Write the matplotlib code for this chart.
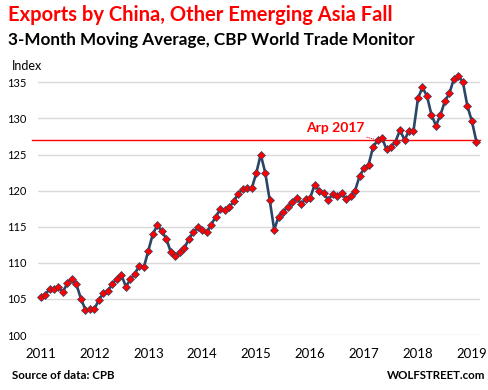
import matplotlib
matplotlib.use("Agg")
import matplotlib.pyplot as plt
import numpy as np

# monthly 3-month moving average, Jan 2011 .. Feb 2019
index_values = [
    105.3, 105.5, 106.4, 106.4, 106.6, 106.0, 107.2, 107.8, 107.0, 105.0, 103.5, 103.6,  # 2011
    103.6, 104.9, 105.8, 106.1, 107.1, 107.8, 108.3, 106.7, 107.7, 108.5, 109.6, 109.4,  # 2012
    111.7, 114.0, 115.2, 114.4, 113.3, 111.5, 110.9, 111.5, 112.0, 113.3, 114.2, 114.9,  # 2013
    114.6, 114.2, 115.3, 116.4, 117.4, 117.3, 117.7, 118.5, 119.6, 120.2, 120.3, 120.3,  # 2014
    122.4, 125.0, 122.5, 118.7, 114.6, 116.4, 117.1, 117.7, 118.4, 119.0, 118.2, 118.8,  # 2015
    119.0, 120.8, 120.0, 119.7, 118.7, 119.5, 119.3, 119.7, 118.8, 119.2, 120.0, 122.0,  # 2016
    123.1, 123.6, 126.0, 127.0, 127.3, 125.7, 126.0, 126.8, 128.4, 127.0, 128.3, 128.3,  # 2017
    132.8, 134.3, 133.1, 130.5, 129.0, 130.5, 132.4, 133.5, 135.5, 135.9, 135.0, 131.7,  # 2018
    129.6, 126.8,                                                                        # 2019
]
year_labels = ["2011", "2012", "2013", "2014", "2015", "2016", "2017", "2018", "2019"]
y_ticks = [100, 105, 110, 115, 120, 125, 130, 135]
ref_level = 127.0
ref_month = 75  # Apr 2017

plt.rcParams["font.family"] = ["Lato", "DejaVu Sans"]

W, H = 489, 390
fig = plt.figure(figsize=(W / 100, H / 100), dpi=100)
ax = fig.add_axes([38 / W, (H - 335) / H, 442 / W, (335 - 67.9) / H])

months = np.arange(len(index_values))
ax.set_xlim(-0.56, 97.8)
ax.set_ylim(100, 137)

ax.set_yticks(y_ticks)
ax.set_yticklabels([str(t) for t in y_ticks], fontsize=8)
ax.set_xticks(np.arange(len(year_labels)) * 12)
ax.set_xticklabels(year_labels, fontsize=9.5)
ax.tick_params(axis="both", length=0)
ax.tick_params(axis="y", pad=8.5)
ax.tick_params(axis="x", pad=9)
for s in ax.spines.values():
    s.set_visible(False)
ax.grid(axis="y", color="#d9d9d9", linewidth=1)
ax.set_axisbelow(True)

# horizontal reference line at the latest value
ax.axhline(ref_level, xmin=-6 / 442, xmax=1, color="#ff0000", linewidth=1, clip_on=False)

ax.plot(months, index_values, "-", color="#2b4566", linewidth=1.9,
        marker="D", markersize=4.2, markerfacecolor="#ff0000",
        markeredgecolor="#2b4566", markeredgewidth=0.5, clip_on=False, zorder=3)

ax.annotate("Arp 2017", xy=(ref_month, index_values[ref_month]), xytext=(ref_month - 3, ref_level + 0.8),
            ha="right", va="bottom", color="#ff0000", fontsize=10, fontweight="bold",
            arrowprops=dict(arrowstyle="-", color="#ff0000", linewidth=0.6, linestyle=":",
                            shrinkA=0, shrinkB=2))

fig.text(8 / W, (H - 21) / H, "Exports by China, Other Emerging Asia Fall", color="#ff0000",
         fontsize=14.5, fontweight="bold", va="baseline", ha="left")
fig.text(8 / W, (H - 45) / H, "3-Month Moving Average, CBP World Trade Monitor", color="black",
         fontsize=12.3, fontweight="bold", va="baseline", ha="left")
fig.text(12 / W, (H - 70) / H, "Index", fontsize=9, va="baseline", ha="left")
fig.text(12 / W, (H - 379) / H, "Source of data: CPB", fontsize=8.3, fontweight="bold",
         va="baseline", ha="left")
fig.text(485 / W, (H - 379) / H, "WOLFSTREET.com", fontsize=8.3, fontweight="bold",
         va="baseline", ha="right")

fig.savefig("out.png", dpi=100)
